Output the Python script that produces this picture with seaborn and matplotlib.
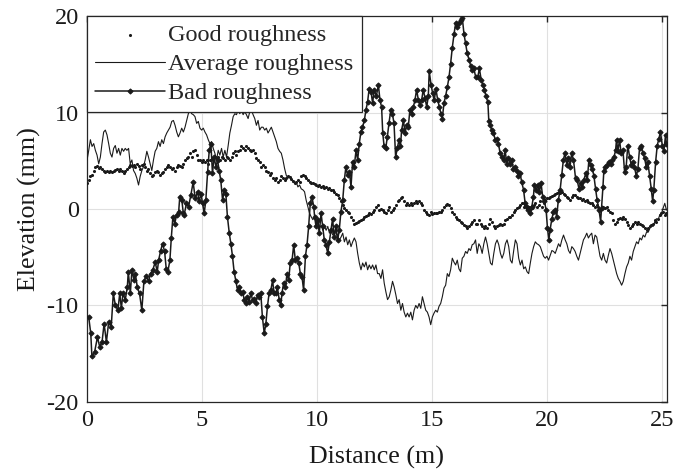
import numpy as np
import pandas as pd
import matplotlib
matplotlib.use("Agg")
import matplotlib.pyplot as plt
import seaborn as sns

# ---------------- data ----------------
# Good / Average roughness share evenly spaced stations
good_y = [2.7, 3.0, 3.4, 3.5, 4.0, 4.4, 4.5, 4.3, 4.4, 4.2, 4.0, 3.9, 4.0, 3.9, 4.0, 3.9, 4.0, 4.1, 4.2, 4.0,
          4.15, 4.0, 3.7, 4.0, 4.2, 4.4, 4.6, 4.5, 4.6, 4.4, 4.7, 4.5, 4.2, 4.6, 4.7, 4.4, 4.0, 4.2, 3.7, 3.4,
          3.5, 3.8, 4.0, 3.9, 3.5, 3.7, 3.9, 4.2, 4.4, 4.6, 4.4, 4.2, 4.3, 4.0, 4.4, 4.6, 4.5, 4.4,
          4.7, 5.1, 5.3, 5.4, 5.8, 5.4, 6.0, 6.1, 5.6, 5.1, 5.1, 4.9, 5.1, 4.9, 5.1, 4.7, 5.1, 5.3, 5.1, 5.4,
          5.3, 5.4, 5.1, 5.4, 5.3, 5.1, 5.4, 5.3, 5.1, 5.4, 5.8, 6.0, 5.6, 6.0, 6.1, 6.5, 6.3, 6.1, 6.5, 6.3,
          6.1, 6.0, 6.1, 5.8, 5.3, 5.1, 4.9, 4.4, 4.6, 4.4, 4.0, 3.9, 3.5, 3.7, 3.2, 3.0, 3.2, 2.8, 3.0,
          3.4, 3.2, 3.0, 3.2, 3.4, 3.3, 3.1, 2.9, 2.7, 2.8, 3.0, 2.8, 3.4, 3.5, 3.4, 3.2, 3.0, 2.8, 2.7, 2.7,
          2.6, 2.5, 2.4, 2.5, 2.3, 2.4, 2.2, 2.3, 2.1, 2.2, 2.0, 2.0, 1.8, 1.6, 1.5, 1.1, 0.8, 0.4, 0.1, -0.1,
          -0.3, -0.45, -0.8, -1.1, -1.5, -1.4, -1.3, -1.2, -1.1, -1.0, -0.8, -0.7, -0.6, -0.45, -0.5, -0.3, -0.1, 0.25, 0.4,
          -0.1, 0.0, -0.1, -0.3, -0.45, -0.1, 0.25, -0.3, -0.1, 0.1, 0.4, 0.8, 0.9, 1.1, 1.3, 0.8, 0.4, 0.6, 0.4, 0.6,
          0.4, 0.65, 0.8, 0.65, 0.8, 0.6, 0.4, -0.1, -0.3, -0.5, -0.6, -0.3, -0.5, -0.45, -0.4, -0.45, -0.3, -0.3, -0.1, 0.2,
          0.4, 0.5, 0.4, 0.1, -0.3, -0.5, -0.8, -1.0, -1.1, -1.3, -1.4, -1.7, -1.8, -2.0, -1.8, -1.5, -1.3, -1.1, -1.5,
          -1.5, -1.1, -1.5, -1.8, -2.0, -1.8, -2.0, -1.5, -1.0, -1.3, -1.8, -2.0, -1.8, -1.7, -1.5, -1.7, -1.5, -1.1, -1.0, -0.8,
          -0.8, -0.6, -0.3, -0.1, 0.1, 0.25, 0.4, 0.6, 0.25, 0.4, 0.1, 0.25, -0.1, 0.1, 0.4, 0.6, 0.25, 0.4, 0.8, 0.25,
          0.6, 0.9, 1.1, 1.2, 1.3, 1.35, 1.45, 1.6, 1.7, 1.8, 1.7, 1.8, 1.6, 1.45, 1.3, 1.1, 0.9, 1.3, 1.45,
          1.45, 1.3, 1.1, 1.2, 0.9, 1.0, 0.8, 0.9, 0.75, 0.65, 0.6, 0.4, 0.25, 0.4, 0.25, -0.1, 0.1, 0.25, 0.1, 0.2,
          -0.1, -0.3, -0.45, -1.1, -1.5, -1.3, -1.0, -0.9, -1.0, -0.8, -1.0, -1.3, -1.7, -2.0, -1.8, -1.5, -1.3, -1.5, -1.3, -1.5,
          -1.7, -1.8, -2.0, -2.2, -2.0, -1.8, -1.7, -1.5, -1.1, -1.3, -1.0, -0.6, -0.45, -0.3, -0.6, -0.45]

avg_y = [5.1, 6.1, 7.2, 6.5, 6.8, 6.1, 5.6, 4.7, 5.4, 6.8, 8.0, 8.2, 7.7, 6.8, 5.8, 5.4, 6.3, 6.6, 5.8, 6.3,
         5.6, 6.3, 6.0, 6.3, 6.1, 6.3, 4.7, 5.1, 4.0, 3.7, 3.2, 2.5, 3.4, 4.0, 4.4, 5.1, 6.0, 5.4, 4.7, 4.0,
         5.1, 6.0, 6.3, 7.0, 6.5, 7.2, 6.8, 7.5, 7.9, 8.2, 8.5, 9.1, 9.2, 8.7, 8.0, 7.5, 7.9, 8.4,
         8.0, 8.5, 9.2, 9.9, 10.3, 9.9, 9.8, 9.6, 8.9, 9.1, 8.4, 8.2, 8.4, 8.0, 7.7, 7.2, 6.8, 7.0, 6.3, 5.8,
         5.1, 6.1, 5.6, 6.3, 5.4, 6.1, 5.4, 6.6, 7.9, 8.7, 9.6, 9.9, 9.8, 10.3, 9.9, 10.3, 9.8, 10.1, 9.8, 9.4,
         10.1, 10.3, 9.8, 9.4, 8.7, 9.2, 8.2, 8.5, 8.5, 8.2, 8.4, 7.9, 8.2, 8.5, 8.0, 7.5, 7.0, 6.3, 6.0,
         5.8, 5.1, 4.2, 3.5, 3.2, 3.4, 3.2, 2.8, 2.7, 2.8, 2.3, 2.5, 2.1, 2.0, 1.8, 0.9, 0.25, -0.45, -0.8, -1.1,
         -0.8, -1.5, -1.1, -2.0, -1.7, -2.2, -1.8, -2.2, -1.8, -2.5, -2.2, -2.7, -2.4, -2.5, -2.9, -3.2, -2.9, -2.5, -3.4, -2.9,
         -3.7, -3.2, -3.9, -3.4, -3.0, -3.4, -4.6, -5.6, -6.3, -5.6, -6.0, -5.5, -6.3, -5.8, -6.2, -5.8, -6.3, -5.8, -6.7,
         -6.7, -7.2, -6.3, -7.7, -8.6, -9.4, -9.1, -8.4, -7.5, -8.1, -8.9, -9.8, -9.4, -10.5, -9.8, -10.7, -11.2, -10.8, -11.2, -10.7,
         -11.5, -10.5, -10.0, -10.3, -9.8, -10.3, -9.1, -9.8, -10.5, -10.7, -11.2, -12.0, -11.2, -10.8, -10.5, -10.7, -10.1, -9.8, -9.1, -8.2,
         -7.9, -6.7, -7.0, -6.3, -5.1, -5.5, -5.8, -5.3, -6.2, -6.5, -5.1, -4.9, -4.4, -4.6, -4.1, -4.3, -3.7, -3.6, -3.2,
         -4.6, -3.6, -3.9, -4.6, -3.6, -2.9, -3.6, -4.6, -5.6, -5.8, -4.6, -3.6, -3.2, -3.7, -4.6, -5.1, -4.6, -3.6, -3.2, -3.9,
         -5.3, -5.6, -4.3, -3.2, -3.6, -5.1, -5.8, -5.3, -6.2, -6.0, -6.5, -6.7, -5.6, -4.6, -3.9, -3.4, -3.6, -3.7, -3.9, -4.4,
         -4.9, -5.1, -4.9, -5.3, -4.8, -4.3, -4.4, -4.6, -4.1, -3.6, -3.9, -3.2, -2.7, -3.2, -3.6, -4.3, -4.6, -3.9, -4.1,
         -4.4, -4.9, -5.3, -4.6, -3.9, -3.2, -2.9, -2.5, -3.0, -2.7, -2.5, -3.6, -2.7, -2.9, -3.9, -4.9, -5.3, -4.6, -5.3, -5.6,
         -4.8, -4.1, -4.6, -5.3, -6.0, -6.7, -7.2, -7.5, -7.9, -7.5, -6.7, -6.0, -5.6, -4.9, -5.3, -4.4, -3.9, -3.4, -3.6, -3.0,
         -3.2, -2.7, -2.9, -2.4, -2.4, -2.0, -1.7, -1.8, -1.3, -1.0, -1.1, -0.6, -0.45, 0.1, 0.6, -0.1]

bad_x = [0.07, 0.16, 0.21, 0.33, 0.45, 0.55, 0.65, 0.74, 0.84, 0.94, 1.05, 1.14, 1.23, 1.34, 1.42, 1.49, 1.56, 1.66, 1.75, 1.79,
         1.88, 1.95, 2.04, 2.10, 2.18, 2.28, 2.38, 2.47, 2.57, 2.67, 2.76, 2.86, 2.96, 3.05, 3.11, 3.20, 3.28, 3.37, 3.44, 3.51,
         3.60, 3.66, 3.73, 3.81, 3.89, 3.98, 4.03, 4.12, 4.18,
         4.22, 4.32, 4.41, 4.51, 4.61, 4.70, 4.80, 4.87, 4.95, 5.02, 5.09, 5.16, 5.24, 5.31, 5.38, 5.45, 5.52, 5.60, 5.67, 5.74,
         5.81, 5.89, 5.96, 6.03, 6.10, 6.18, 6.25, 6.32, 6.39, 6.47, 6.54, 6.61, 6.68, 6.76, 6.83, 6.90, 6.97, 7.04, 7.12, 7.19,
         7.26, 7.33, 7.41, 7.48, 7.55, 7.62, 7.70, 7.77, 7.84, 7.91, 7.99, 8.06, 8.13, 8.20, 8.27, 8.35, 8.42,
         8.47, 8.54, 8.62, 8.69, 8.76, 8.83, 8.91, 8.98, 9.05, 9.12, 9.20, 9.27, 9.34, 9.41, 9.49, 9.56, 9.63, 9.70, 9.77, 9.85,
         9.89, 9.95, 10.02, 10.09, 10.17, 10.24, 10.31, 10.38, 10.46, 10.53, 10.60, 10.67, 10.74, 10.82, 10.89, 10.96, 11.03, 11.11, 11.18, 11.25,
         11.32, 11.40, 11.47, 11.54, 11.61, 11.69, 11.76, 11.83, 11.90, 11.97, 12.05, 12.12, 12.19, 12.26, 12.34, 12.41, 12.48, 12.57,
         12.66, 12.73, 12.80, 12.85, 12.91, 12.98, 13.05, 13.12, 13.20, 13.27, 13.34, 13.41, 13.48, 13.56, 13.62, 13.67, 13.75, 13.82, 13.89, 13.96,
         14.03, 14.11, 14.18, 14.25, 14.32, 14.40, 14.47, 14.54, 14.61, 14.69, 14.76, 14.83, 14.87, 14.95, 15.02, 15.09, 15.16, 15.24, 15.31, 15.38,
         15.44, 15.51, 15.58, 15.66, 15.73, 15.80, 15.87, 15.95, 16.02, 16.09, 16.16, 16.23, 16.31, 16.38, 16.45, 16.52, 16.60, 16.67, 16.74, 16.81,
         16.89,
         16.98, 17.05, 17.13, 17.20, 17.27, 17.34, 17.42, 17.46, 17.52, 17.59, 17.66, 17.74, 17.81, 17.88, 17.95, 18.02, 18.10, 18.17, 18.24, 18.31,
         18.39, 18.46, 18.53, 18.60, 18.68, 18.75, 18.82, 18.89, 18.97, 19.04, 19.11, 19.18, 19.25, 19.33, 19.40, 19.44, 19.52, 19.59, 19.66, 19.73,
         19.80, 19.88, 19.95, 20.01, 20.07, 20.12, 20.20, 20.27, 20.34, 20.41, 20.48, 20.56, 20.63, 20.70, 20.77, 20.85, 20.92, 20.99, 21.06, 21.14,
         21.23, 21.30, 21.38, 21.45, 21.52, 21.59, 21.67, 21.74, 21.81, 21.88, 21.96, 22.03, 22.10, 22.17, 22.25, 22.32, 22.36, 22.42, 22.46, 22.53,
         22.61, 22.68, 22.75, 22.82, 22.90, 22.97, 23.01, 23.07, 23.14, 23.21, 23.29, 23.36, 23.43, 23.50, 23.58, 23.65, 23.72, 23.79, 23.87, 23.94,
         24.01, 24.08, 24.16, 24.23, 24.30, 24.37, 24.45, 24.52, 24.58, 24.63, 24.71, 24.78, 24.85, 24.92, 25.00, 25.07, 25.14, 25.18]

bad_y = [-11.2, -12.9, -15.3, -14.8, -13.3, -14.3, -13.8, -11.9, -13.8, -11.7, -12.2, -8.75, -10.0, -10.5, -8.75, -10.3, -8.75, -9.4, -8.1, -6.5,
         -8.75, -6.3, -7.4, -6.7, -8.1, -8.75, -10.5, -7.5, -6.9, -7.5, -6.7, -6.3, -5.5, -6.5, -5.3, -4.3, -3.6, -4.4, -6.2, -6.5,
         -5.3, -3.0, -0.8, -1.5, -0.6, -0.3, 1.3, 0.9, -0.4,
         -0.6, 0.6, 0.25, 1.45, 2.8, 1.1, 1.8, 0.8, 1.6, 0.6, -0.45, 0.9, 3.9, 6.1, 6.8, 3.7, 5.4, 4.4, 5.1, 4.0,
         3.0, 0.9, 2.0, 1.6, -0.8, -2.5, -3.6, -4.9, -6.5, -7.5, -8.4, -8.1, -8.75, -8.6, -9.4, -9.8, -9.1, -9.6, -8.75, -9.4,
         -9.3, -9.8, -8.9, -9.1, -8.75, -11.2, -12.9, -11.9, -10.1, -8.75, -8.4, -7.4, -8.75, -8.75, -8.1, -9.4, -10.0,
         -8.75, -7.7, -8.1, -6.7, -7.4, -5.6, -5.3, -3.7, -5.3, -5.1, -5.6, -6.7, -7.0, -8.4, -4.9, -3.7, -1.8, 0.6, 1.3, 0.25,
         -0.8, -1.8, -1.1, -2.5, -0.45, -1.8, -3.2, -3.7, -4.6, -3.4, -2.2, -1.0, -2.9, -1.8, -3.2, -2.2, -0.3, 0.9, 3.0, 4.4,
         3.5, 3.9, 2.3, 4.9, 4.4, 6.1, 5.1, 6.8, 8.0, 8.5, 9.2, 10.3, 11.1, 12.5, 12.2, 11.0, 12.4, 11.7,
         12.9, 11.3, 10.6, 7.9, 6.5, 6.3, 7.5, 8.9, 10.3, 9.9, 8.9, 5.4, 6.3, 7.2, 6.5, 8.2, 9.2, 7.9, 8.7, 8.5,
         10.3, 9.9, 10.6, 11.3, 12.4, 11.3, 10.8, 11.3, 12.4, 11.5, 10.6, 11.7, 14.3, 12.9, 12.0, 11.3, 12.5, 11.3, 10.6, 9.9,
         9.4, 11.0, 11.7, 12.7, 13.7, 15.1, 16.7, 18.2, 19.3, 18.9, 19.3, 19.6, 19.8, 18.2, 17.2, 16.2, 15.5, 14.9, 14.4, 14.6,
         13.7,
         13.7, 14.6, 13.4, 12.9, 12.4, 11.7, 11.1, 9.1, 8.7, 8.2, 7.9, 7.2, 7.3, 6.8, 5.8, 5.4, 5.1, 6.1, 4.7, 5.3,
         4.7, 5.1, 4.2, 4.4, 4.0, 3.4, 3.7, 2.8, 2.0, 0.6, 0.25, -0.1, -0.45, 0.25, 1.3, 2.5, 2.0, 2.5, 1.8, 2.7,
         1.3, 0.8, -0.1, -2.0, -3.2, -2.2, -1.0, -0.3, -0.1, -0.8, 0.9, 2.0, 3.5, 5.1, 5.8, 4.6, 5.3, 4.4, 5.8, 5.1,
         3.2, 3.0, 2.1, 2.7, 2.3, 3.0, 3.7, 3.0, 5.1, 4.6, 4.2, 3.4, 2.1, 0.9, -0.1, -1.3, 0.1, 2.3, 4.0, 4.4,
         4.6, 4.9, 4.7, 5.1, 5.4, 6.1, 7.2, 6.0, 7.2, 5.8, 6.1, 3.9, 4.4, 6.6, 5.4, 4.6, 4.9, 4.4, 3.4, 4.2,
         6.3, 6.5, 5.8, 5.3, 4.4, 4.9, 3.4, 2.1, 0.8, 2.0, 4.9, 6.6, 7.3, 8.0, 6.6, 6.0, 7.7, 6.8]

series_labels = ["Good roughness", "Average roughness", "Bad roughness"]
x_ticks = [0, 5, 10, 15, 20, 25]
y_ticks = [-20, -10, 0, 10, 20]

# evenly spaced survey stations for the good / average profiles
dist = np.linspace(0.0, 25.18, len(avg_y))

# ---------------- figure ----------------
sns.set_theme(style="white")
plt.rcParams["font.family"] = ["Liberation Serif", "DejaVu Serif"]
plt.rcParams["axes.unicode_minus"] = False

fig, ax = plt.subplots(figsize=(6.75, 4.76), dpi=100)
fig.subplots_adjust(left=0.129, right=0.988, top=0.9655, bottom=0.156)

dark = "#262626"

sns.scatterplot(x=dist, y=good_y, ax=ax, color="k", s=5, linewidth=0,
                marker="o", label=series_labels[0], zorder=3)
sns.lineplot(x=dist, y=avg_y, ax=ax, color="k", lw=0.8, estimator=None,
             sort=False, label=series_labels[1], zorder=3)
sns.lineplot(x=bad_x, y=bad_y, ax=ax, color="k", lw=1.1, marker="D", ms=2.6,
             mec="k", mfc="k", estimator=None, sort=False,
             label=series_labels[2], zorder=4)

ax.set_xlim(0, 25.2)
ax.set_ylim(-20, 20)
ax.set_xticks(x_ticks)
ax.set_yticks(y_ticks)
ax.set_xticklabels([str(t) for t in x_ticks])
ax.set_yticklabels([str(t) for t in y_ticks])

ax.grid(True, color="#e0e0e0", lw=0.8)
ax.set_axisbelow(True)
ax.tick_params(direction="in", top=True, right=True, length=4, width=1,
               labelsize=17.5, colors=dark, labelcolor="k", pad=6)
for sp in ax.spines.values():
    sp.set_visible(True)
    sp.set_color(dark)
    sp.set_linewidth(0.9)

ax.set_xlabel("Distance (m)", fontsize=18.7, color="k", labelpad=11)
ax.set_ylabel("Elevation (mm)", fontsize=18.7, color="k", labelpad=4)

leg = ax.legend(loc="upper left", bbox_to_anchor=(0.0, 1.0, 0.474, 0.0),
                mode="expand", borderaxespad=0, frameon=True, fancybox=False,
                edgecolor=dark, framealpha=1, fontsize=17.5, handlelength=2.9,
                numpoints=1, scatterpoints=1, borderpad=0.31, labelspacing=0.29,
                handletextpad=0.1)
leg.get_frame().set_linewidth(0.9)

fig.savefig("out.png", dpi=100)
